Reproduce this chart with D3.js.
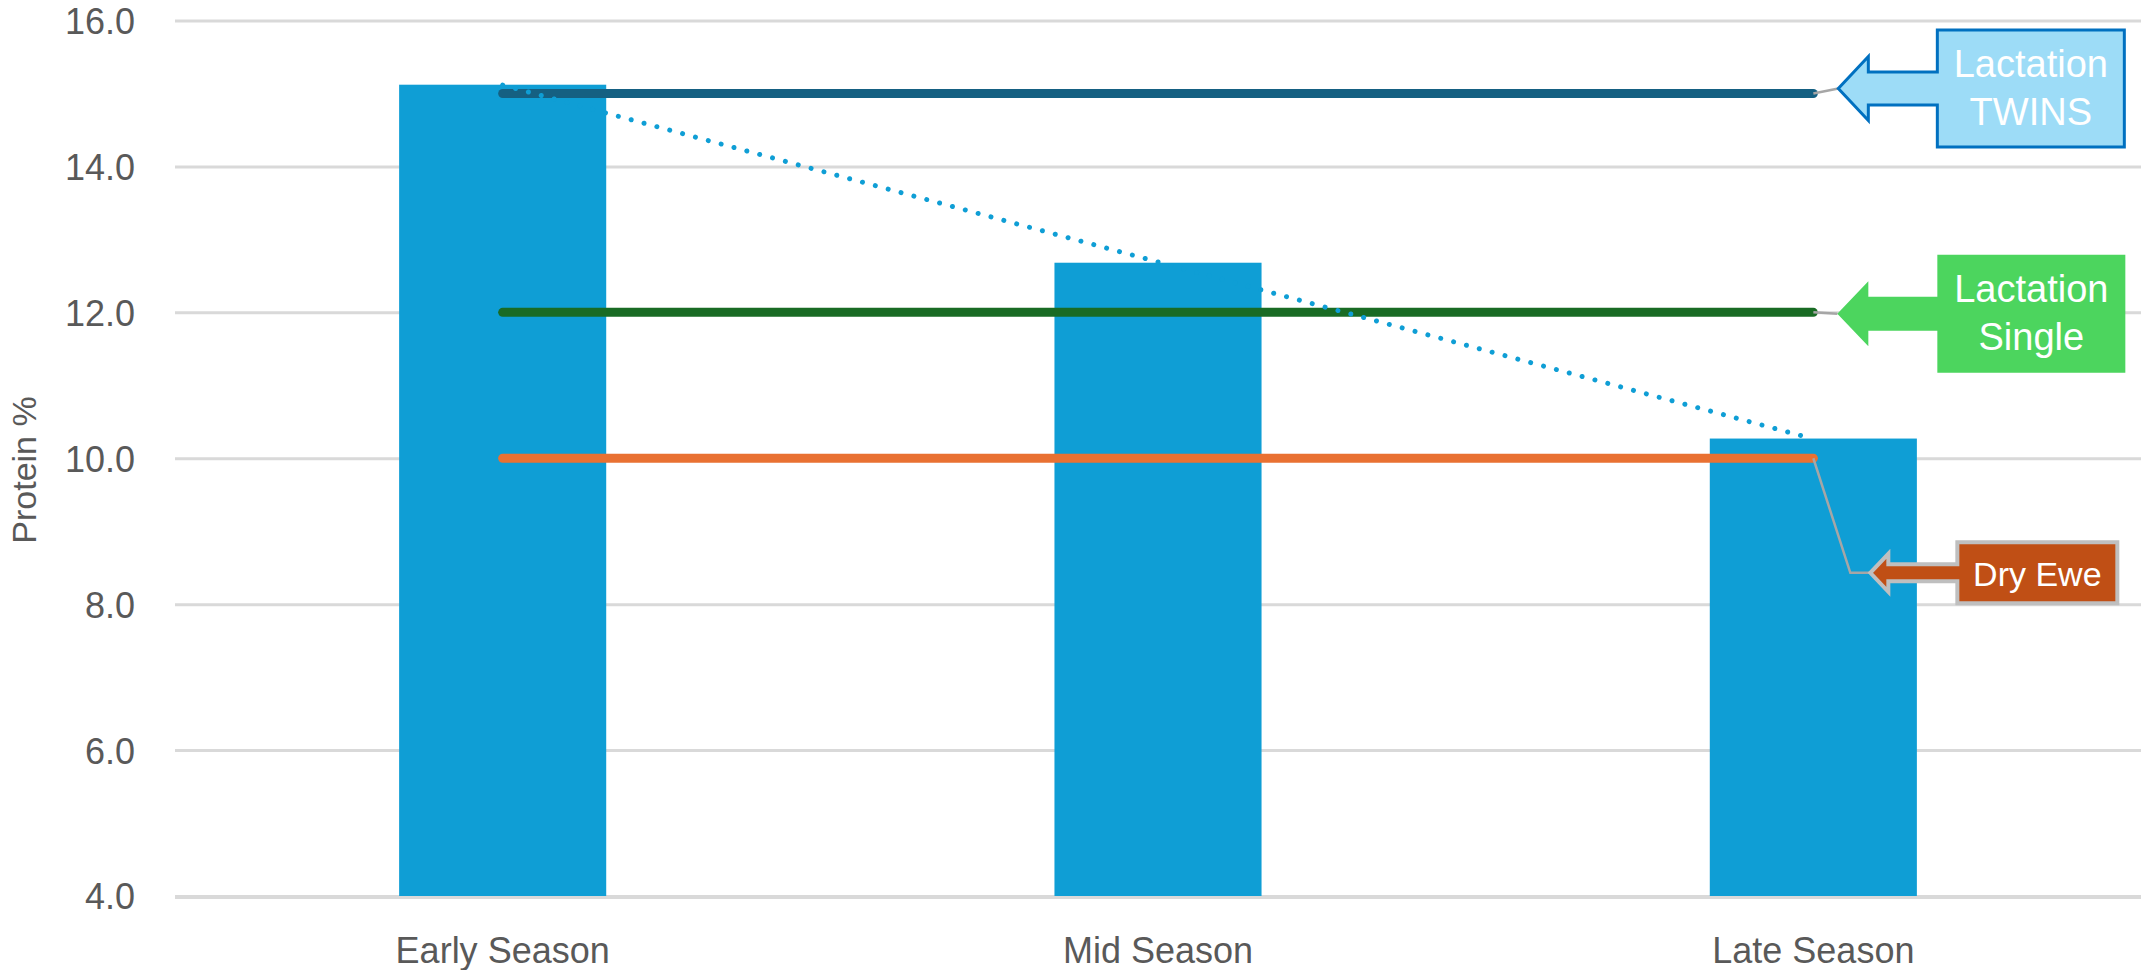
<!DOCTYPE html>
<html>
<head>
<meta charset="utf-8">
<script src="https://cdn.jsdelivr.net/npm/d3@7"></script>
<style>
  html, body { margin: 0; padding: 0; background: #ffffff; }
  svg { display: block; }
  text { font-family: "Liberation Sans", Arial, sans-serif; }
</style>
</head>
<body>
<svg id="chart" width="2144" height="970"></svg>
<script>
// ---------------- DATA ----------------
const categories = ["Early Season", "Mid Season", "Late Season"];
const proteinValues = [15.12, 12.68, 10.27];
const twinsValues = [15.0, 15.0, 15.0];
const singleValues = [12.0, 12.0, 12.0];
const dryEweValues = [10.0, 10.0, 10.0];
const yTicks = [4, 6, 8, 10, 12, 14, 16];
const yTitle = "Protein %";
const labelTwins = ["Lactation", "TWINS"];
const labelSingle = ["Lactation", "Single"];
const labelDry = ["Dry Ewe"];

// ---------------- LAYOUT ----------------
const W = 2144, H = 970;
const plot = { left: 175, right: 2141, top: 20.5, bottom: 896 };
const svg = d3.select("#chart");

const x = d3.scaleBand().domain(categories).range([plot.left, plot.right]).padding(0);
const y = d3.scaleLinear().domain([4, 16]).range([plot.bottom, plot.top]);
const cx = c => x(c) + x.bandwidth() / 2;
const barW = x.bandwidth() * 0.316;

// gridlines
const yAxis = d3.axisLeft(y).tickValues(yTicks).tickSize(-(plot.right - plot.left)).tickFormat(d3.format(".1f")).tickPadding(40);
const gy = svg.append("g").attr("transform", `translate(${plot.left},0)`).call(yAxis);
gy.select(".domain").remove();
gy.selectAll(".tick line").attr("stroke", "#D9D9D9").attr("stroke-width", 3);
gy.selectAll(".tick text")
  .attr("fill", "#595959").attr("font-size", 36)
  .attr("font-family", '"Liberation Sans", Arial, sans-serif')
  .attr("x", -40).attr("dy", "0.36em");

// bars
svg.append("g").selectAll("rect").data(categories).join("rect")
  .attr("x", d => cx(d) - barW / 2)
  .attr("width", barW)
  .attr("y", (d, i) => y(proteinValues[i]))
  .attr("height", (d, i) => y(4) - y(proteinValues[i]))
  .attr("fill", "#0F9ED5");

// bottom axis line over bars
svg.append("line").attr("x1", plot.left).attr("x2", plot.right)
  .attr("y1", y(4) + 1.5).attr("y2", y(4) + 1.5)
  .attr("stroke", "#D9D9D9").attr("stroke-width", 3);

// category labels
const xAxis = d3.axisBottom(x).tickSize(0).tickPadding(0);
const gx = svg.append("g").attr("transform", `translate(0,${plot.bottom})`).call(xAxis);
gx.select(".domain").remove();
gx.selectAll(".tick text")
  .attr("fill", "#595959").attr("font-size", 36)
  .attr("font-family", '"Liberation Sans", Arial, sans-serif')
  .attr("y", 67).attr("dy", 0);

// y title
svg.append("text")
  .attr("transform", `translate(36,470) rotate(-90)`)
  .attr("text-anchor", "middle")
  .attr("fill", "#595959").attr("font-size", 34)
  .text(yTitle);

// reference lines
const line = d3.line().x((d, i) => cx(categories[i])).y(d => y(d));
const series = [
  { vals: twinsValues, color: "#156082" },
  { vals: singleValues, color: "#196B24" },
  { vals: dryEweValues, color: "#E97132" }
];

// leader lines + callouts (drawn before lines so lines end cleanly)
const lastC = categories[categories.length - 1];
const px = cx(lastC);
const callouts = [
  { text: labelTwins, value: twinsValues[2], fill: "#9DDCF7", stroke: "#0070C0", sw: 3, dx: 25, dy: -5, elbow: null,
    bw: 187, bh: 117, shaft: 69, head: 30, shaftH: 16.5, headH: 32, fs: 38 },
  { text: labelSingle, value: singleValues[2], fill: "#4CD55E", stroke: "none", sw: 0, dx: 24, dy: 1.5, elbow: null,
    bw: 188, bh: 118, shaft: 69, head: 31, shaftH: 17, headH: 32.5, fs: 38 },
  { text: labelDry, value: dryEweValues[2], fill: "#C04F15", stroke: "#BFBFBF", sw: 4, dx: 57, dy: 114.6, elbow: 37,
    bw: 160, bh: 61, shaft: 69, head: 18, shaftH: 8.5, headH: 19, fs: 34 }
];

// lines
svg.append("g").selectAll("path").data(series).join("path")
  .attr("d", d => line(d.vals))
  .attr("fill", "none").attr("stroke", d => d.color)
  .attr("stroke-width", 9).attr("stroke-linecap", "round");

// leaders
callouts.forEach(c => {
  const py = y(c.value);
  const tx = px + c.dx, ty = py + c.dy;
  const pts = c.elbow !== null ? [[px, py], [px + c.elbow, ty], [tx, ty]] : [[px, py], [tx, ty]];
  svg.append("path").attr("d", d3.line()(pts))
    .attr("fill", "none").attr("stroke", "#A6A6A6").attr("stroke-width", 2.5);
});

// trendline (linear regression of bar values)
const n = proteinValues.length;
const xs = d3.range(n);
const mx = d3.mean(xs), my = d3.mean(proteinValues);
const slope = d3.sum(xs, i => (i - mx) * (proteinValues[i] - my)) / d3.sum(xs, i => (i - mx) ** 2);
const icpt = my - slope * mx;
const trend = xs.map(i => icpt + slope * i);
svg.append("path").attr("d", line(trend))
  .attr("fill", "none").attr("stroke", "#0F9ED5")
  .attr("stroke-width", 5).attr("stroke-linecap", "round")
  .attr("stroke-dasharray", "0.01 13.3");

// callout shapes
callouts.forEach(c => {
  const py = y(c.value);
  const tx = px + c.dx, ty = py + c.dy;
  const hx = tx + c.head, L = hx + c.shaft, R = L + c.bw;
  const T = ty - c.bh / 2, B = ty + c.bh / 2;
  const p = d3.path();
  p.moveTo(L, T); p.lineTo(R, T); p.lineTo(R, B); p.lineTo(L, B);
  p.lineTo(L, ty + c.shaftH); p.lineTo(hx, ty + c.shaftH); p.lineTo(hx, ty + c.headH);
  p.lineTo(tx, ty); p.lineTo(hx, ty - c.headH); p.lineTo(hx, ty - c.shaftH);
  p.lineTo(L, ty - c.shaftH); p.closePath();
  svg.append("path").attr("d", p.toString())
    .attr("fill", c.fill).attr("stroke", c.stroke).attr("stroke-width", c.sw)
    .attr("stroke-linejoin", "miter");
  const tcx = (L + R) / 2;
  const t = svg.append("text").attr("text-anchor", "middle").attr("fill", "#ffffff").attr("font-size", c.fs);
  if (c.text.length === 2) {
    t.append("tspan").attr("x", tcx).attr("y", ty - 11.5).text(c.text[0]);
    t.append("tspan").attr("x", tcx).attr("y", ty + 36.5).text(c.text[1]);
  } else {
    t.append("tspan").attr("x", tcx).attr("y", ty + 13).text(c.text[0]);
  }
});
</script>
</body>
</html>
